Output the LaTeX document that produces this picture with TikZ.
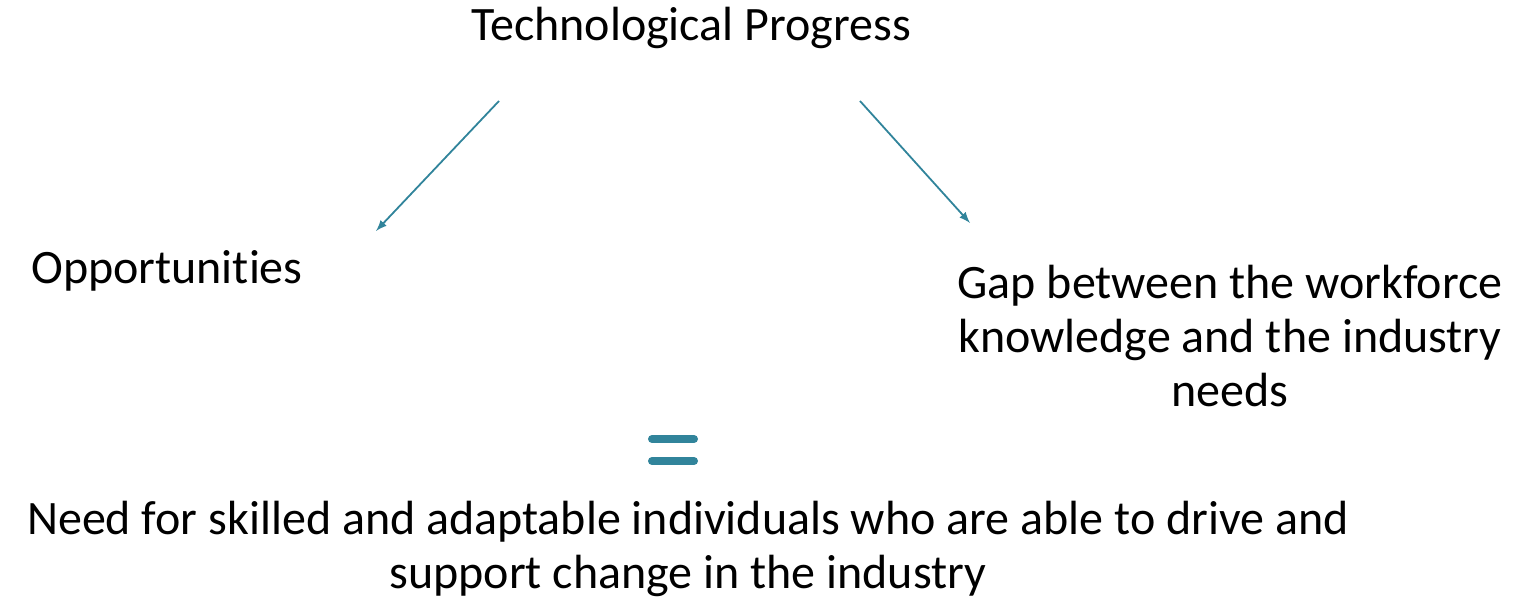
\documentclass[tikz,border=0pt]{standalone}
\usepackage{fontspec}
\setmainfont{Carlito}[Ligatures=NoCommon]
\usepackage{tikz}
\usetikzlibrary{positioning,calc}
\definecolor{teal}{HTML}{31849B}

\begin{document}
\begin{tikzpicture}
                    [x=0.5pt,y=-0.5pt,>=latex,
                     label/.style={align=center,font=\fontsize{24}{27}\selectfont,inner sep=0pt},
                     link/.style={->,draw=teal,line width=0.9pt},
                     bar/.style={draw=teal,line width=4pt,line cap=round}]

                \useasboundingbox (0,0) rectangle (1523,598);

                \node[label] (tech) at (691,28) {Technological Progress};
                \node[label] (opp) at (167,271) {Opportunities};
                \node[label] (gap) at (1230,336) {Gap between the workforce\\knowledge and the industry\\needs};
                \node[label] (need) at (688,549) {Need for skilled and adaptable individuals who are able to drive and\\support change in the industry};

                \coordinate (t1) at (499,101);
                \coordinate (o1) at (376,231);
                \coordinate (t2) at (860,101);
                \coordinate (g1) at (970,223);
                    \draw[link] (t1) -- (o1);
                    \draw[link] (t2) -- (g1);

                % equals sign
                \coordinate (eq) at (673,450);
                    \draw[bar] ($(eq)+(-21,-11)$) -- ($(eq)+(21,-11)$);
                    \draw[bar] ($(eq)+(-21,11)$) -- ($(eq)+(21,11)$);

                \end{tikzpicture}
\end{document}
